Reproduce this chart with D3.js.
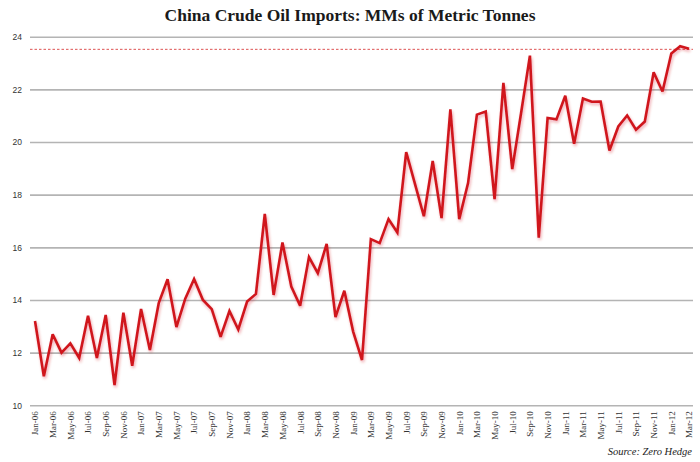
<!DOCTYPE html>
<html>
<head>
<meta charset="utf-8">
<script src="https://cdn.jsdelivr.net/npm/d3@7"></script>
<style>
  html, body { margin: 0; padding: 0; background: #fff; }
  svg { display: block; }
</style>
</head>
<body>
<svg id="chart" width="700" height="462"></svg>
<script>
const months = [
  "Jan-06","Feb-06","Mar-06","Apr-06","May-06","Jun-06","Jul-06","Aug-06","Sep-06","Oct-06","Nov-06","Dec-06",
  "Jan-07","Feb-07","Mar-07","Apr-07","May-07","Jun-07","Jul-07","Aug-07","Sep-07","Oct-07","Nov-07","Dec-07",
  "Jan-08","Feb-08","Mar-08","Apr-08","May-08","Jun-08","Jul-08","Aug-08","Sep-08","Oct-08","Nov-08","Dec-08",
  "Jan-09","Feb-09","Mar-09","Apr-09","May-09","Jun-09","Jul-09","Aug-09","Sep-09","Oct-09","Nov-09","Dec-09",
  "Jan-10","Feb-10","Mar-10","Apr-10","May-10","Jun-10","Jul-10","Aug-10","Sep-10","Oct-10","Nov-10","Dec-10",
  "Jan-11","Feb-11","Mar-11","Apr-11","May-11","Jun-11","Jul-11","Aug-11","Sep-11","Oct-11","Nov-11","Dec-11",
  "Jan-12","Feb-12","Mar-12"
];
const imports = [
  13.2, 11.1, 12.7, 12.0, 12.35, 11.8, 13.4, 11.8, 13.43, 10.77, 13.52, 11.5,
  13.66, 12.1, 13.88, 14.79, 12.97, 14.05, 14.8, 14.0, 13.65, 12.6, 13.58, 12.88,
  13.94, 14.23, 17.27, 14.19, 16.18, 14.51, 13.78, 15.63, 15.02, 16.13, 13.35, 14.35,
  12.8, 11.72, 16.31, 16.16, 17.07, 16.56, 19.62, 18.4, 17.18, 19.28, 17.11, 21.24,
  17.07, 18.44, 21.04, 21.16, 17.83, 22.25, 18.97, 21.1, 23.28, 16.37, 20.91, 20.86,
  21.76, 19.93, 21.65, 21.53, 21.54, 19.68, 20.59, 21.01, 20.47, 20.78, 22.65, 21.92,
  23.36, 23.64, 23.54
];
const yTicks = [10, 12, 14, 16, 18, 20, 22, 24];
const refLevel = [23.52];
const titleText = "China Crude Oil Imports: MMs of Metric Tonnes";
const sourceText = "Source: Zero Hedge";

const svg = d3.select("#chart");

const x = d3.scalePoint().domain(months).range([35, 689]);
const y = d3.scaleLinear().domain([10, 24]).range([405.3, 36.7]);

const gridX0 = 30, gridX1 = 693;

// defs: shadow filter
const defs = svg.append("defs");
const f = defs.append("filter").attr("id", "shadow")
  .attr("x", "-5%").attr("y", "-5%").attr("width", "110%").attr("height", "110%");
f.append("feGaussianBlur").attr("in", "SourceGraphic").attr("stdDeviation", 1.6).attr("result", "b");
f.append("feOffset").attr("in", "b").attr("dx", 1).attr("dy", 1.5).attr("result", "o");
f.append("feComponentTransfer").attr("in", "o").attr("result", "t")
  .append("feFuncA").attr("type", "linear").attr("slope", 0.35);
const fm = f.append("feMerge");
fm.append("feMergeNode").attr("in", "t");
fm.append("feMergeNode").attr("in", "SourceGraphic");

// Title
svg.append("text")
  .attr("x", 350).attr("y", 21)
  .attr("text-anchor", "middle")
  .attr("font-family", "Liberation Serif, DejaVu Serif, serif")
  .attr("font-weight", "bold")
  .attr("font-size", 17.5)
  .attr("fill", "#1a1a1a")
  .text(titleText);

// Y gridlines + labels
const yAxis = d3.axisLeft(y).tickValues(yTicks).tickSize(-(gridX1 - gridX0)).tickPadding(8).tickFormat(d3.format("d"));
const gy = svg.append("g").attr("transform", `translate(${gridX0},0)`).call(yAxis);
gy.select(".domain").remove();
gy.selectAll(".tick line").attr("stroke", "#b4b4b4").attr("stroke-width", 1.6);
gy.selectAll(".tick text")
  .attr("font-family", "Liberation Sans, Arial, sans-serif")
  .attr("font-size", 8.5)
  .attr("fill", "#333");

// Reference dashed line
svg.selectAll("line.ref").data(refLevel).enter().append("line")
  .attr("class", "ref")
  .attr("x1", gridX0).attr("x2", gridX1)
  .attr("y1", d => y(d)).attr("y2", d => y(d))
  .attr("stroke", "#d9403f").attr("stroke-width", 0.9)
  .attr("stroke-dasharray", "2.5,2");

// X axis labels
const xAxis = d3.axisBottom(x)
  .tickValues(months.filter((m, i) => i % 2 === 0))
  .tickSize(0).tickPadding(0);
const gx = svg.append("g").attr("transform", `translate(0,${y(10)})`).call(xAxis);
gx.select(".domain").remove();
gx.selectAll(".tick text")
  .attr("font-family", "Liberation Serif, DejaVu Serif, serif")
  .attr("font-size", 9)
  .attr("fill", "#333")
  .attr("text-anchor", "end")
  .attr("dy", "0.32em")
  .attr("transform", "translate(0,6) rotate(-90)");

// Line
const line = d3.line().x((d, i) => x(months[i])).y(d => y(d)).curve(d3.curveLinear);
svg.append("path")
  .datum(imports)
  .attr("d", line)
  .attr("fill", "none")
  .attr("stroke", "#d0161e")
  .attr("stroke-width", 2.6)
  .attr("stroke-linejoin", "miter")
  .attr("stroke-miterlimit", 3)
  .attr("filter", "url(#shadow)");

// Source
svg.append("text")
  .attr("x", 692).attr("y", 455)
  .attr("text-anchor", "end")
  .attr("font-family", "Liberation Serif, DejaVu Serif, serif")
  .attr("font-style", "italic")
  .attr("font-size", 10.5)
  .attr("fill", "#222")
  .text(sourceText);
</script>
</body>
</html>
